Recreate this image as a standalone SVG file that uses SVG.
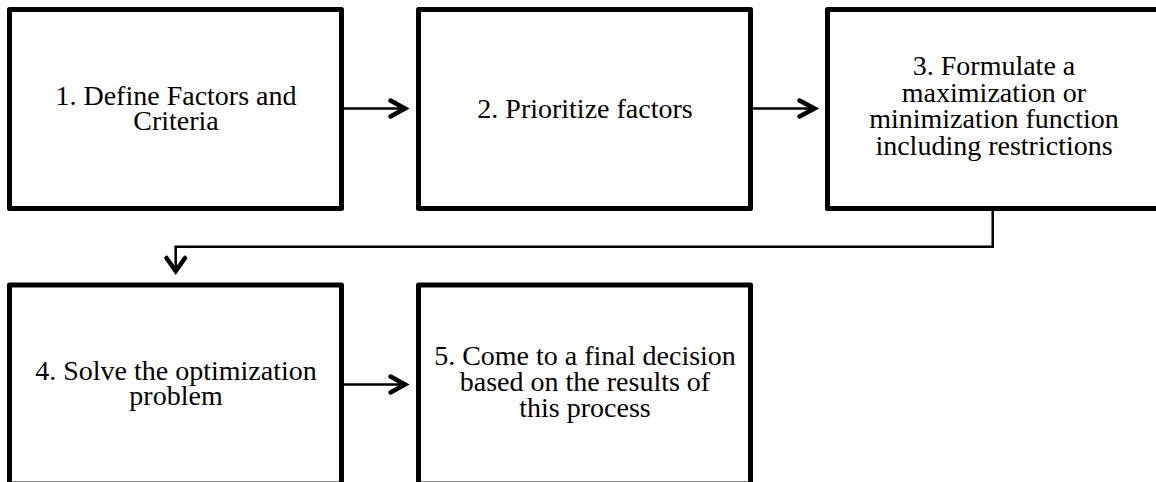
<svg xmlns="http://www.w3.org/2000/svg" width="1156" height="482" viewBox="0 0 1156 482">
<style>
.box{fill:#fff;stroke:#000;stroke-width:5;stroke-linejoin:round}
.lbl{font-family:"Liberation Serif","Times New Roman",serif;font-size:28px;fill:#000;text-anchor:middle}
.line{fill:none;stroke:#000;stroke-width:2.5}
.head{fill:none;stroke:#000;stroke-width:4.5;stroke-linecap:round;stroke-linejoin:miter}
</style>
<rect width="1156" height="482" fill="#fff"/>
<g id="node1">
<rect class="box" x="9.5" y="9.5" width="332" height="199"/>
<text class="lbl" x="176" y="104.5">1. Define Factors and</text>
<text class="lbl" x="176" y="129.5">Criteria</text>
</g>
<g id="node2">
<rect class="box" x="418.5" y="9.5" width="332" height="199"/>
<text class="lbl" x="585" y="118">2. Prioritize factors</text>
</g>
<g id="node3">
<rect class="box" x="827.5" y="9.5" width="332" height="199"/>
<text class="lbl" x="994" y="75">3. Formulate a</text>
<text class="lbl" x="994" y="101.5">maximization or</text>
<text class="lbl" x="994" y="128">minimization function</text>
<text class="lbl" x="994" y="154.5">including restrictions</text>
</g>
<g id="node4">
<rect class="box" x="9.5" y="285" width="332" height="199"/>
<text class="lbl" x="176" y="380">4. Solve the optimization</text>
<text class="lbl" x="176" y="404.5">problem</text>
</g>
<g id="node5">
<rect class="box" x="418.5" y="285" width="332" height="199"/>
<text class="lbl" x="585" y="365">5. Come to a final decision</text>
<text class="lbl" x="585" y="391">based on the results of</text>
<text class="lbl" x="585" y="417">this process</text>
</g>
<g id="connectors">
<path class="line" d="M344,108.5 H405"/>
<path class="head" d="M390.5,100.5 L405,108.5 L390.5,116.5"/>
<path class="line" d="M753,108.5 H814"/>
<path class="head" d="M799.5,100.5 L814.5,108.5 L799.5,116.5"/>
<path class="line" d="M992.7,211 V246.7 H175.7 V270"/>
<path class="head" d="M166.5,258 L175.7,271 L185,258"/>
<path class="line" d="M344,384.5 H405"/>
<path class="head" d="M390.5,376.5 L405,384.5 L390.5,392.5"/>
</g>
</svg>
